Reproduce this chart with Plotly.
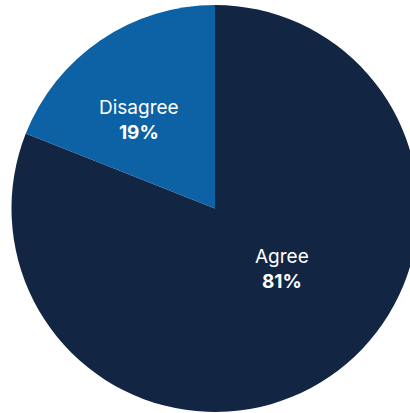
import plotly.graph_objects as go

# Survey response shares
labels = ["Agree", "Disagree"]
values = [81, 19]
colors = ["#122643", "#0c62a4"]

# Label anchor points (paper coordinates) for each slice's text
label_x = [0.6547, 0.3244]
label_y = [0.3514, 0.7174]

fig = go.Figure(
    go.Pie(
        labels=labels,
        values=values,
        sort=False,
        direction="clockwise",
        rotation=0,
        marker=dict(colors=colors, line=dict(width=0)),
        textinfo="none",
        hoverinfo="label+percent",
        showlegend=False,
    )
)

for lab, val, x, y in zip(labels, values, label_x, label_y):
    fig.add_annotation(
        x=x, y=y, xref="paper", yref="paper",
        xanchor="center", yanchor="middle",
        text=f"{lab}<br><b>{val}%</b>",
        showarrow=False,
        align="center",
        font=dict(family="Inter, Lato, sans-serif", size=19, color="white"),
    )

fig.update_layout(
    width=430,
    height=413,
    margin=dict(l=0, r=0, t=5, b=1),
    paper_bgcolor="white",
    plot_bgcolor="white",
)

fig.write_html("out.html", config={"displayModeBar": False})
